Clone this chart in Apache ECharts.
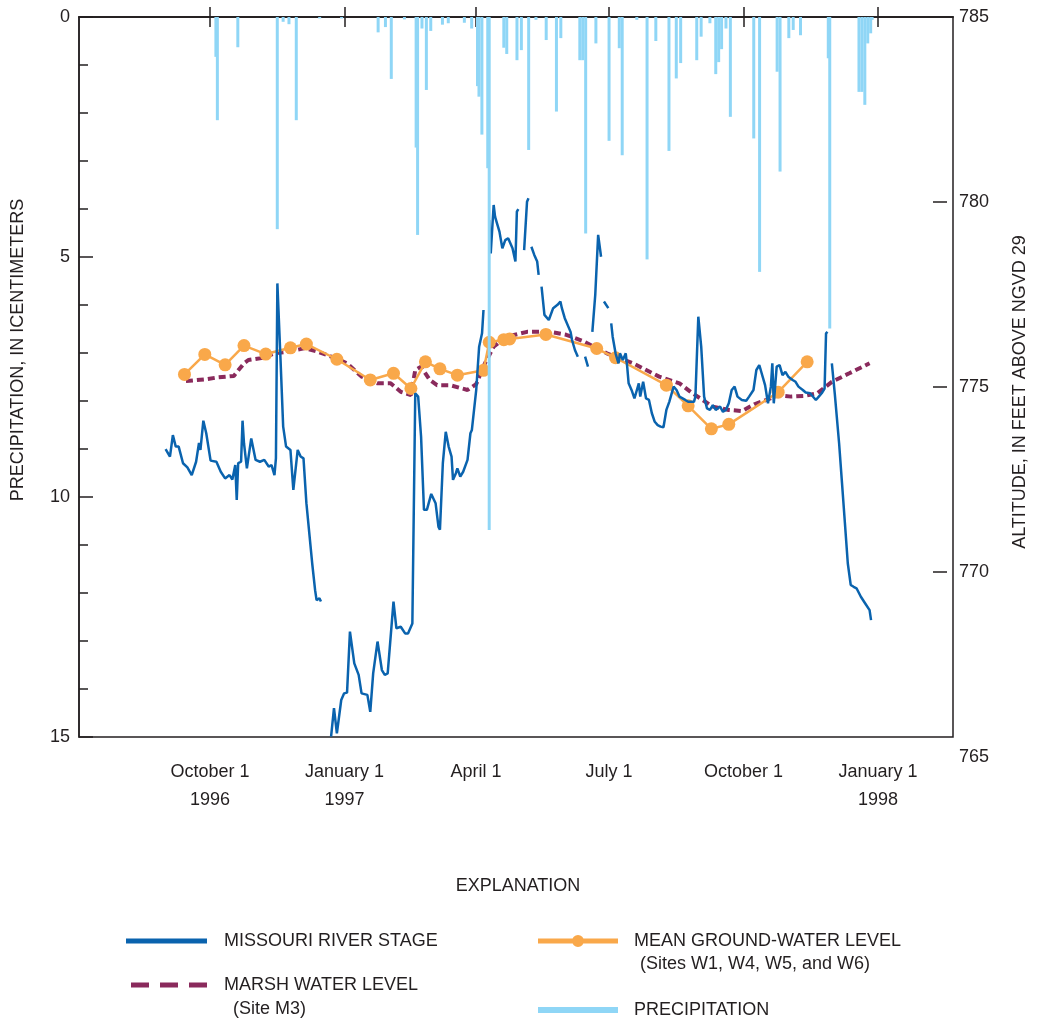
<!DOCTYPE html>
<html>
<head>
<meta charset="utf-8">
<title>Missouri River stage, marsh and ground-water levels, precipitation</title>
<script src="https://cdn.jsdelivr.net/npm/echarts@6/dist/echarts.min.js"></script>
<style>
  html, body { margin: 0; padding: 0; background: #ffffff; }
  #chart { width: 1037px; height: 1019px; }
</style>
</head>
<body>
<div id="chart"></div>
<script>
// Daily precipitation, in centimeters
const precipitation = [
  ['1996-10-05', 0.83], ['1996-10-06', 2.15], ['1996-10-20', 0.63], ['1996-11-16', 4.42],
  ['1996-11-20', 0.10], ['1996-11-24', 0.15], ['1996-11-29', 2.15], ['1996-12-15', 0.03],
  ['1996-12-30', 0.03], ['1997-01-24', 0.32], ['1997-01-29', 0.21], ['1997-02-02', 1.29],
  ['1997-02-11', 0.05], ['1997-02-19', 2.72], ['1997-02-20', 4.54], ['1997-02-23', 0.24],
  ['1997-02-26', 1.52], ['1997-03-01', 0.29], ['1997-03-09', 0.16], ['1997-03-13', 0.13],
  ['1997-03-24', 0.12], ['1997-03-29', 0.24], ['1997-04-02', 1.44], ['1997-04-03', 1.66],
  ['1997-04-05', 2.45], ['1997-04-09', 3.15], ['1997-04-10', 10.69], ['1997-04-20', 0.64],
  ['1997-04-22', 0.77], ['1997-04-29', 0.90], ['1997-05-02', 0.69], ['1997-05-07', 2.77],
  ['1997-05-12', 0.06], ['1997-05-19', 0.48], ['1997-05-26', 1.97], ['1997-05-29', 0.44],
  ['1997-06-11', 0.90], ['1997-06-13', 0.90], ['1997-06-15', 4.51], ['1997-06-22', 0.55],
  ['1997-07-01', 2.58], ['1997-07-08', 0.65], ['1997-07-10', 2.88], ['1997-07-20', 0.06],
  ['1997-07-27', 5.05], ['1997-08-02', 0.50], ['1997-08-11', 2.79], ['1997-08-16', 1.28],
  ['1997-08-19', 0.96], ['1997-08-30', 0.90], ['1997-09-02', 0.41], ['1997-09-08', 0.13],
  ['1997-09-12', 1.19], ['1997-09-14', 0.94], ['1997-09-16', 0.67], ['1997-09-19', 0.24],
  ['1997-09-22', 2.08], ['1997-10-08', 2.53], ['1997-10-12', 5.31], ['1997-10-24', 1.14],
  ['1997-10-26', 3.22], ['1997-11-01', 0.44], ['1997-11-04', 0.27], ['1997-11-09', 0.38],
  ['1997-11-28', 0.86], ['1997-11-29', 6.49], ['1997-12-19', 1.56], ['1997-12-21', 1.56],
  ['1997-12-23', 1.83], ['1997-12-25', 0.55], ['1997-12-27', 0.34], ['1997-12-28', 0.06]
];

// Missouri River stage, feet above NGVD 29 (null = no record)
const riverStage = [
  ['1996-09-01', 773.32], ['1996-09-04', 773.12], ['1996-09-06', 773.70], ['1996-09-08', 773.39],
  ['1996-09-10', 773.39], ['1996-09-13', 772.94], ['1996-09-16', 772.83], ['1996-09-19', 772.62],
  ['1996-09-22', 772.98], ['1996-09-24', 773.49], ['1996-09-25', 773.30], ['1996-09-27', 774.09],
  ['1996-09-29', 773.75], ['1996-10-02', 773.01], ['1996-10-06', 772.98], ['1996-10-09', 772.71],
  ['1996-10-12', 772.53], ['1996-10-15', 772.62], ['1996-10-17', 772.50], ['1996-10-19', 772.89],
  ['1996-10-20', 771.95], ['1996-10-21', 772.94], ['1996-10-23', 772.98], ['1996-10-24', 774.09],
  ['1996-10-25', 773.48], ['1996-10-27', 772.80], ['1996-10-28', 772.80], ['1996-10-30', 773.61],
  ['1996-11-02', 773.03], ['1996-11-05', 772.98], ['1996-11-08', 773.03], ['1996-11-11', 772.85],
  ['1996-11-13', 772.89], ['1996-11-15', 772.62], ['1996-11-16', 773.07], ['1996-11-17', 777.80],
  ['1996-11-19', 775.91], ['1996-11-21', 773.93], ['1996-11-23', 773.39], ['1996-11-26', 773.30],
  ['1996-11-28', 772.22], ['1996-12-01', 773.30], ['1996-12-03', 773.12], ['1996-12-05', 773.07],
  ['1996-12-07', 771.86], ['1996-12-11', 770.23], ['1996-12-13', 769.51], ['1996-12-14', 769.24],
  ['1996-12-16', 769.29], ['1996-12-17', 769.20], ['1996-12-20', null],
  ['1996-12-24', 765.55], ['1996-12-26', 766.32], ['1996-12-28', 765.64], ['1996-12-31', 766.54],
  ['1997-01-02', 766.72], ['1997-01-04', 766.74], ['1997-01-06', 768.39], ['1997-01-09', 767.53],
  ['1997-01-12', 767.22], ['1997-01-14', 766.72], ['1997-01-18', 766.68], ['1997-01-20', 766.22],
  ['1997-01-22', 767.26], ['1997-01-25', 768.12], ['1997-01-28', 767.35], ['1997-01-30', 767.22],
  ['1997-02-01', 767.26], ['1997-02-05', 769.20], ['1997-02-07', 768.48], ['1997-02-10', 768.52],
  ['1997-02-13', 768.34], ['1997-02-15', 768.34], ['1997-02-18', 768.61], ['1997-02-20', 774.83],
  ['1997-02-22', 774.74], ['1997-02-24', 773.66], ['1997-02-26', 771.68], ['1997-02-28', 771.68],
  ['1997-03-01', 771.63], ['1997-03-03', 772.11], ['1997-03-06', 771.86], ['1997-03-08', 771.22],
  ['1997-03-09', 771.14], ['1997-03-11', 772.94], ['1997-03-13', 773.79], ['1997-03-15', 773.39],
  ['1997-03-17', 773.12], ['1997-03-18', 772.49], ['1997-03-20', 772.67], ['1997-03-21', 772.80],
  ['1997-03-23', 772.58], ['1997-03-25', 772.71], ['1997-03-28', 773.03], ['1997-03-30', 773.75],
  ['1997-03-31', 773.84], ['1997-04-03', 774.92], ['1997-04-05', 776.09], ['1997-04-07', 776.45],
  ['1997-04-08', 777.08], ['1997-04-10', null],
  ['1997-04-12', 779.51], ['1997-04-13', 778.61], ['1997-04-15', 779.92], ['1997-04-16', 779.60],
  ['1997-04-19', 779.20], ['1997-04-21', 778.75], ['1997-04-23', 778.97], ['1997-04-25', 779.02],
  ['1997-04-28', 778.75], ['1997-04-30', 778.39], ['1997-05-01', 779.74], ['1997-05-02', 779.81],
  ['1997-05-04', null],
  ['1997-05-06', 778.70], ['1997-05-08', 780.01], ['1997-05-09', 780.10], ['1997-05-10', null],
  ['1997-05-11', 778.79], ['1997-05-13', 778.57], ['1997-05-15', 778.39], ['1997-05-16', 778.03],
  ['1997-05-17', null],
  ['1997-05-18', 777.71], ['1997-05-20', 776.95], ['1997-05-23', 776.81], ['1997-05-26', 777.13],
  ['1997-05-29', 777.22], ['1997-05-31', 777.31], ['1997-06-01', 777.13], ['1997-06-03', 776.86],
  ['1997-06-04', 776.90], ['1997-06-07', 776.49], ['1997-06-08', 776.27], ['1997-06-10', 776.00],
  ['1997-06-12', 775.82], ['1997-06-14', null],
  ['1997-06-17', 775.82], ['1997-06-19', 775.55], ['1997-06-21', null],
  ['1997-06-22', 776.49], ['1997-06-24', 777.49], ['1997-06-25', 777.44], ['1997-06-26', 779.11],
  ['1997-06-28', 778.52], ['1997-06-29', null],
  ['1997-06-30', 777.31], ['1997-07-03', 777.13], ['1997-07-04', null],
  ['1997-07-05', 776.72], ['1997-07-06', 776.36], ['1997-07-08', 775.91], ['1997-07-10', 775.64],
  ['1997-07-11', 775.91], ['1997-07-13', 775.73], ['1997-07-15', 775.91], ['1997-07-16', 775.55],
  ['1997-07-17', 775.10], ['1997-07-19', 774.92], ['1997-07-21', 774.69], ['1997-07-24', 775.10],
  ['1997-07-25', 774.74], ['1997-07-27', 775.14], ['1997-07-29', 774.69], ['1997-07-31', 774.65],
  ['1997-08-02', 774.29], ['1997-08-04', 774.06], ['1997-08-06', 773.97], ['1997-08-08', 773.93],
  ['1997-08-10', 773.91], ['1997-08-12', 774.38], ['1997-08-14', 774.60], ['1997-08-17', 775.01],
  ['1997-08-19', 774.92], ['1997-08-21', 774.74], ['1997-08-25', 774.65], ['1997-08-27', 774.60],
  ['1997-08-31', 774.60], ['1997-09-01', 774.74], ['1997-09-03', 776.90], ['1997-09-05', 776.09],
  ['1997-09-07', 774.74], ['1997-09-09', 774.42], ['1997-09-11', 774.38], ['1997-09-13', 774.51],
  ['1997-09-15', 774.38], ['1997-09-18', 774.47], ['1997-09-20', 774.33], ['1997-09-22', 774.38],
  ['1997-09-24', 774.56], ['1997-09-26', 774.92], ['1997-09-28', 775.01], ['1997-09-30', 774.74],
  ['1997-10-03', 774.65], ['1997-10-06', 774.63], ['1997-10-08', 774.74], ['1997-10-11', 774.92],
  ['1997-10-13', 775.46], ['1997-10-15', 775.59], ['1997-10-16', 775.46], ['1997-10-19', 775.05],
  ['1997-10-21', 774.56], ['1997-10-23', 775.01], ['1997-10-24', 775.64], ['1997-10-25', 774.56],
  ['1997-10-27', 775.55], ['1997-10-29', 775.59], ['1997-10-31', 775.32], ['1997-11-02', 775.41],
  ['1997-11-04', 775.28], ['1997-11-07', 775.19], ['1997-11-09', 775.14], ['1997-11-11', 775.01],
  ['1997-11-14', 774.92], ['1997-11-16', 774.85], ['1997-11-19', 774.83], ['1997-11-23', 774.65],
  ['1997-11-25', 774.74], ['1997-11-27', 774.83], ['1997-11-29', 774.96], ['1997-11-30', 776.45],
  ['1997-12-01', 776.49], ['1997-12-02', null],
  ['1997-12-04', 775.64], ['1997-12-06', 774.83], ['1997-12-09', 773.48], ['1997-12-11', 772.40],
  ['1997-12-13', 771.32], ['1997-12-15', 770.23], ['1997-12-17', 769.65], ['1997-12-19', 769.60],
  ['1997-12-21', 769.56], ['1997-12-24', 769.33], ['1997-12-25', 769.38], ['1997-12-27', 769.15],
  ['1997-12-30', 768.97], ['1997-12-31', 768.70]
];

// Marsh water level at site M3, feet above NGVD 29
const marshLevel = [
  ['1996-09-15', 775.16], ['1996-09-29', 775.21], ['1996-10-07', 775.26], ['1996-10-18', 775.30],
  ['1996-10-25', 775.64], ['1996-10-28', 775.73], ['1996-11-06', 775.78], ['1996-11-15', 775.91],
  ['1996-11-24', 775.95], ['1996-12-06', 776.05], ['1996-12-15', 775.95], ['1996-12-27', 775.78],
  ['1997-01-04', 775.64], ['1997-01-14', 775.28], ['1997-01-25', 775.10], ['1997-02-03', 775.10],
  ['1997-02-10', 774.87], ['1997-02-17', 774.78], ['1997-02-20', 775.46], ['1997-02-24', 775.55],
  ['1997-03-02', 775.19], ['1997-03-07', 775.05], ['1997-03-16', 775.05], ['1997-03-28', 774.92],
  ['1997-04-03', 775.08], ['1997-04-09', 775.64], ['1997-04-15', 776.09], ['1997-04-24', 776.36],
  ['1997-05-08', 776.49], ['1997-05-24', 776.49], ['1997-06-04', 776.41], ['1997-06-15', 776.25],
  ['1997-07-02', 775.91], ['1997-07-20', 775.64], ['1997-08-07', 775.28], ['1997-08-21', 775.10],
  ['1997-08-30', 774.83], ['1997-09-13', 774.47], ['1997-09-24', 774.38], ['1997-10-03', 774.35],
  ['1997-10-12', 774.54], ['1997-10-20', 774.65], ['1997-10-28', 774.78], ['1997-11-06', 774.74],
  ['1997-11-15', 774.76], ['1997-11-24', 774.83], ['1997-12-04', 775.14], ['1997-12-16', 775.37],
  ['1997-12-30', 775.64]
];

// Mean ground-water level, sites W1, W4, W5 and W6, feet above NGVD 29
const groundWater = [
  ['1996-09-14', 775.34], ['1996-09-28', 775.88], ['1996-10-12', 775.60], ['1996-10-25', 776.12],
  ['1996-11-09', 775.89], ['1996-11-26', 776.06], ['1996-12-07', 776.16], ['1996-12-28', 775.75],
  ['1997-01-20', 775.19], ['1997-02-05', 775.37], ['1997-02-17', 774.96], ['1997-02-27', 775.68],
  ['1997-03-09', 775.49], ['1997-03-21', 775.32], ['1997-04-08', 775.45], ['1997-04-12', 776.21],
  ['1997-04-22', 776.28], ['1997-04-26', 776.30], ['1997-05-21', 776.42], ['1997-06-25', 776.04],
  ['1997-07-08', 775.79], ['1997-08-12', 775.05], ['1997-08-27', 774.49], ['1997-09-12', 773.87],
  ['1997-09-24', 773.99], ['1997-10-28', 774.86], ['1997-11-17', 775.68]
];

// Date axis ticks and their labels
const dateTicks = ['1996-10-01', '1997-01-01', '1997-04-01', '1997-07-01', '1997-10-01', '1998-01-01'];
const dateTickLabels = ['October 1\n1996', 'January 1\n1997', 'April 1', 'July 1', 'October 1', 'January 1\n1998'];
const dateRange = ['1996-07-03T08:00:00Z', '1998-02-21T08:00:00Z'];

// Altitude ticks drawn inside the frame
const altitudeTickMarks = [770, 775, 780];

const FONT = "'Liberation Sans', Arial, Helvetica, sans-serif";
const INK = '#231f20';
const BLUE = '#0a63ae';
const MAROON = '#8a2a5c';
const ORANGE = '#f9a84a';
const SKY = '#8fd6f6';

const toTime = s => Date.parse(s.length === 10 ? s + 'T00:00:00Z' : s);
const toPairs = rows => rows.map(([d, v]) => [toTime(d), v == null ? '-' : v]);

const tickMs = dateTicks.map(toTime);
const xMin = toTime(dateRange[0]);
const xMax = toTime(dateRange[1]);
const dateLabel = v => {
  for (let i = 0; i < tickMs.length; i++) {
    if (Math.abs(tickMs[i] - v) < 3600e3) return dateTickLabels[i];
  }
  return '';
};

const axisInk = { color: INK, width: 1.5 };
const labelText = { color: INK, fontSize: 18, fontFamily: FONT };
const legendText = { color: INK, fontSize: 18, fontFamily: FONT, lineHeight: 22, padding: [0, 0, 0, 12] };

const chart = echarts.init(document.getElementById('chart'), null, { renderer: 'canvas' });

chart.setOption({
  animation: false,
  backgroundColor: '#ffffff',
  textStyle: { fontFamily: FONT, color: INK },
  grid: [
    { left: 79, right: 84, top: 17, bottom: 282, show: true, borderColor: INK, borderWidth: 1.5, backgroundColor: 'transparent' },
    { left: 79, right: 84, top: 17, bottom: 262, show: false }
  ],
  xAxis: [
    {
      type: 'value', gridIndex: 0, position: 'bottom', min: xMin, max: xMax,
      axisLine: { show: true, lineStyle: axisInk },
      axisTick: { show: true, inside: true, length: 10, customValues: tickMs, lineStyle: axisInk },
      axisLabel: { show: true, customValues: tickMs, formatter: dateLabel, ...labelText, lineHeight: 28, margin: 21 },
      splitLine: { show: false }
    },
    {
      type: 'value', gridIndex: 0, position: 'top', min: xMin, max: xMax,
      axisLine: { show: true, lineStyle: axisInk },
      axisTick: { show: true, inside: true, length: 10, customValues: tickMs, lineStyle: axisInk },
      axisLabel: { show: false },
      splitLine: { show: false }
    },
    {
      type: 'value', gridIndex: 1, min: xMin, max: xMax, show: false
    }
  ],
  yAxis: [
    {
      type: 'value', gridIndex: 0, position: 'left', min: 0, max: 15, interval: 5, inverse: true,
      name: 'PRECIPITATION, IN ICENTIMETERS',
      nameLocation: 'middle', nameRotate: 90, nameGap: 52,
      nameTextStyle: { ...labelText, padding: [0, 0, 0, 54] },
      axisLine: { show: true, lineStyle: axisInk },
      axisTick: { show: true, inside: true, length: 14, lineStyle: axisInk },
      minorTick: { show: true, splitNumber: 5, length: 9, lineStyle: axisInk },
      axisLabel: { ...labelText, margin: 9 },
      splitLine: { show: false }
    },
    {
      type: 'value', gridIndex: 1, position: 'right', min: 765, max: 785, interval: 5,
      name: 'ALTITUDE, IN FEET ABOVE NGVD 29',
      nameLocation: 'middle', nameRotate: 90, nameGap: 64,
      nameTextStyle: { ...labelText, padding: [0, 10, 0, 0] },
      axisLine: { show: false },
      axisTick: { show: true, inside: true, length: 14, customValues: altitudeTickMarks, lineStyle: axisInk },
      axisLabel: { ...labelText, margin: 12, padding: [9, 0, 0, 0] },
      splitLine: { show: false }
    }
  ],
  legend: [
    {
      data: ['MISSOURI RIVER STAGE'], left: 126, top: 930, padding: 0, selectedMode: false,
      icon: 'rect', itemWidth: 81, itemHeight: 5, textStyle: legendText
    },
    {
      data: ['MARSH WATER LEVEL'], left: 131, top: 974, padding: 0, selectedMode: false,
      icon: 'path://M0,0h18v5h-18z M29,0h18v5h-18z M58,0h18v5h-18z', itemWidth: 76, itemHeight: 5,
      textStyle: legendText
    },
    {
      data: ['MEAN GROUND-WATER LEVEL'], left: 538, top: 930, padding: 0, selectedMode: false,
      icon: 'path://M0,3.5h80v5h-80z M34,6a6,6 0 1,1 12,0a6,6 0 1,1 -12,0z', itemWidth: 80, itemHeight: 12,
      textStyle: { ...legendText, padding: [0, 0, 0, 11] }
    },
    {
      data: ['PRECIPITATION'], left: 538, top: 999, padding: 0, selectedMode: false,
      icon: 'rect', itemWidth: 80, itemHeight: 6,
      textStyle: { ...legendText, padding: [0, 0, 0, 11] }
    }
  ],
  graphic: [
    {
      type: 'text', x: 518, y: 886,
      style: { text: 'EXPLANATION', font: '18px ' + FONT, fill: INK, align: 'center', verticalAlign: 'middle' }
    },
    {
      type: 'text', x: 233, y: 1009,
      style: { text: '(Site M3)', font: '18px ' + FONT, fill: INK, align: 'left', verticalAlign: 'middle' }
    },
    {
      type: 'text', x: 640, y: 964,
      style: { text: '(Sites W1, W4, W5, and W6)', font: '18px ' + FONT, fill: INK, align: 'left', verticalAlign: 'middle' }
    }
  ],
  series: [
    {
      name: 'MARSH WATER LEVEL', type: 'line', xAxisIndex: 2, yAxisIndex: 1,
      data: toPairs(marshLevel), symbol: 'none', connectNulls: false,
      lineStyle: { color: MAROON, width: 4, type: [7, 4] },
      itemStyle: { color: MAROON }, z: 2
    },
    {
      name: 'MEAN GROUND-WATER LEVEL', type: 'line', xAxisIndex: 2, yAxisIndex: 1,
      data: toPairs(groundWater), symbol: 'circle', symbolSize: 13,
      lineStyle: { color: ORANGE, width: 2.5 },
      itemStyle: { color: ORANGE }, z: 3
    },
    {
      name: 'MISSOURI RIVER STAGE', type: 'line', xAxisIndex: 2, yAxisIndex: 1,
      data: toPairs(riverStage), symbol: 'none', connectNulls: false,
      lineStyle: { color: BLUE, width: 2.5 },
      itemStyle: { color: BLUE }, z: 4
    },
    {
      name: 'PRECIPITATION', type: 'bar', xAxisIndex: 0, yAxisIndex: 0,
      data: toPairs(precipitation), barWidth: 3,
      itemStyle: { color: SKY }, z: 5
    }
  ]
});
</script>
</body>
</html>
